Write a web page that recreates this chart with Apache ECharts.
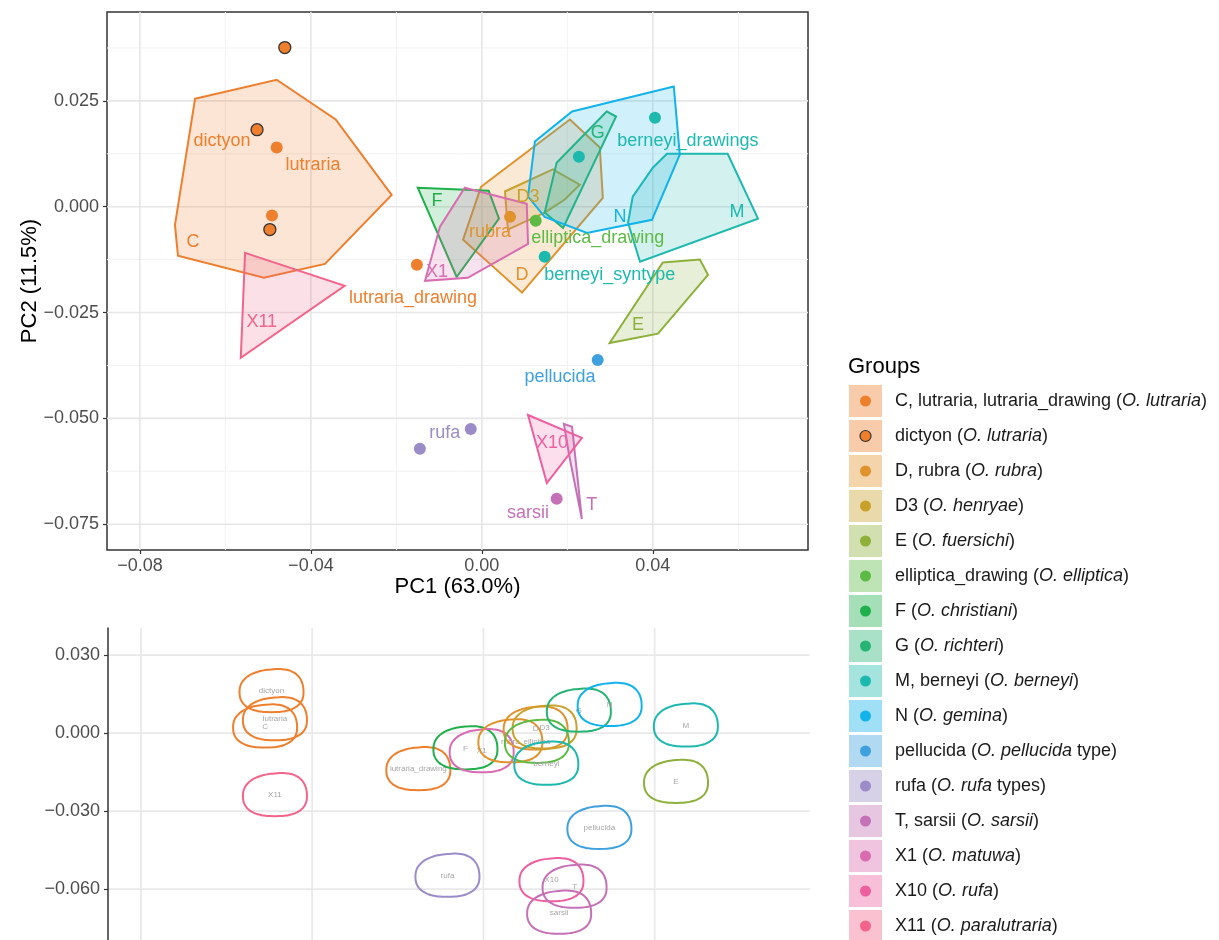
<!DOCTYPE html>
<html><head><meta charset="utf-8">
<script src="https://cdn.jsdelivr.net/npm/echarts@6/dist/echarts.min.js"></script>
<style>html,body{margin:0;padding:0;background:#fff}#c{width:1219px;height:940px}</style>
</head><body><div id="c"></div>
<script>
const FONT = '"Liberation Sans", Arial, Helvetica, sans-serif';

// ---- groups / legend ----
const groupNames = ['C, lutraria, lutraria_drawing','dictyon','D, rubra','D3','E','elliptica_drawing','F','G','M, berneyi','N','pellucida','rufa','T, sarsii','X1','X10','X11'];
const groupSpecies = ['O. lutraria','O. lutraria','O. rubra','O. henryae','O. fuersichi','O. elliptica','O. christiani','O. richteri','O. berneyi','O. gemina','O. pellucida','O. rufa','O. sarsii','O. matuwa','O. rufa','O. paralutraria'];
const groupSuffix = ['','','','','','','','','','',' type',' types','','','',''];
const groupColors = ['#EE7F2D','#EE7F2D','#E0932C','#C8A12C','#8DB03B','#5DBA45','#1FAF4B','#26B374','#1DB8AE','#12B2EA','#3FA0DE','#9B8BC6','#C471B6','#D96CB0','#EE5FA0','#F2648A'];

// ---- top panel: convex hulls (PC1, PC2) ----
const hullC   = [[-0.0671,0.0255],[-0.0480,0.0300],[-0.0342,0.0206],[-0.0211,0.0028],[-0.0367,-0.0135],[-0.0510,-0.0168],[-0.0711,-0.0116],[-0.0718,-0.0043]];
const hullD   = [[-0.0002,0.0047],[0.0206,0.0206],[0.0276,0.0140],[0.0283,0.0021],[0.0094,-0.0203],[-0.0044,-0.0078]];
const hullD3  = [[0.0054,0.0036],[0.0166,0.0088],[0.0229,0.0052],[0.0194,0.0017],[0.0147,-0.0014],[0.0061,-0.0054]];
const hullE   = [[0.0423,-0.0132],[0.0510,-0.0125],[0.0529,-0.0161],[0.0412,-0.0300],[0.0299,-0.0322]];
const hullF   = [[-0.0150,0.0045],[0.0016,0.0038],[0.0040,-0.0028],[-0.0059,-0.0166]];
const hullG   = [[0.0292,0.0225],[0.0314,0.0213],[0.0190,-0.0050],[0.0147,-0.0014],[0.0175,0.0104]];
const hullM   = [[0.0433,0.0125],[0.0575,0.0125],[0.0646,-0.0028],[0.0370,-0.0130],[0.0342,-0.0038],[0.0353,0.0024],[0.0400,0.0092]];
const hullN   = [[0.0211,0.0225],[0.0449,0.0284],[0.0463,0.0123],[0.0398,-0.0031],[0.0246,-0.0062],[0.0147,-0.0024],[0.0108,0.0024],[0.0124,0.0154]];
const hullT   = [[0.0192,-0.0513],[0.0211,-0.0520],[0.0234,-0.0738],[0.0204,-0.0586]];
const hullX1  = [[-0.0040,0.0045],[0.0105,0.0007],[0.0108,-0.0088],[-0.0033,-0.0168],[-0.0133,-0.0175],[-0.0098,-0.0047]];
const hullX10 = [[0.0108,-0.0492],[0.0234,-0.0546],[0.0152,-0.0653]];
const hullX11 = [[-0.0554,-0.0109],[-0.0321,-0.0187],[-0.0564,-0.0357]];
const hullList  = [hullC, hullD, hullD3, hullE, hullF, hullG, hullM, hullN, hullT, hullX1, hullX10, hullX11];
const hullGroup = [0, 2, 3, 4, 6, 7, 8, 9, 12, 13, 14, 15];

// ---- top panel: points ----
const ptX     = [-0.0480,-0.0491,-0.0152,-0.0461,-0.0526,-0.0496,0.0066,0.0126,0.0147,0.0405,0.0227,0.0271,-0.0026,-0.0145,0.0175];
const ptY     = [0.0140,-0.0021,-0.0137,0.0376,0.0182,-0.0054,-0.0024,-0.0033,-0.0118,0.0210,0.0118,-0.0362,-0.0525,-0.0572,-0.0690];
const ptGroup = [0,0,0,1,1,1,2,5,8,8,8,10,11,11,12];

// ---- top panel: text labels ----
const lblText  = ['dictyon','lutraria','C','lutraria_drawing','X11','F','X1','rubra','D3','D','elliptica_drawing','G','berneyi_drawings','N','M','berneyi_syntype','E','pellucida','rufa','X10','T','sarsii'];
const lblX     = [-0.0608,-0.0395,-0.0676,-0.0161,-0.0515,-0.0105,-0.0105,0.0019,0.0108,0.0094,0.0271,0.0271,0.0482,0.0323,0.0597,0.0299,0.0365,0.0183,-0.0087,0.0164,0.0257,0.0108];
const lblY     = [0.0154,0.0099,-0.0083,-0.0215,-0.0272,0.0014,-0.0154,-0.0059,0.0024,-0.0161,-0.0073,0.0173,0.0154,-0.0024,-0.0012,-0.0161,-0.0279,-0.0402,-0.0534,-0.0558,-0.0705,-0.0723];
const lblGroup = [1,0,0,0,15,6,13,2,3,2,5,7,8,9,8,8,4,10,11,14,12,12];

// ---- bottom panel: marked label outlines ----
const blobText  = ['dictyon','lutraria','C','X11','lutraria_drawing','F','X1','rubra','D','D3','elliptica','berneyi','G','N','M','E','pellucida','rufa','X10','T','sarsii'];
const blobX     = [-0.0495,-0.0487,-0.0510,-0.0487,-0.0152,-0.0042,-0.0004,0.0063,0.0122,0.0143,0.0125,0.0147,0.0223,0.0295,0.0473,0.0450,0.0271,-0.0084,0.0159,0.0213,0.0177];
const blobY     = [0.0161,0.0053,0.0025,-0.0239,-0.0139,-0.0059,-0.0070,-0.0032,0.0017,0.0021,-0.0034,-0.0118,0.0086,0.0108,0.0029,-0.0188,-0.0365,-0.0549,-0.0566,-0.0591,-0.0691];
const blobGroup = [1,0,0,15,0,6,13,2,2,3,5,8,7,9,8,4,10,11,14,12,12];

// ---- axes ticks / grid ----
const topXTicks = [-0.08,-0.04,0,0.04];
const topXMinor = [-0.06,-0.02,0.02,0.06];
const topYTicks = [-0.075,-0.05,-0.025,0,0.025];
const topYMinor = [-0.0625,-0.0375,-0.0125,0.0125,0.0375];
const botXGrid  = [-0.08,-0.04,0,0.04];
const botYTicks = [0.03,0,-0.03,-0.06];

function rgba(hex, a){
  const n = parseInt(hex.slice(1),16);
  return 'rgba('+((n>>16)&255)+','+((n>>8)&255)+','+(n&255)+','+a+')';
}
function fmt(d){ return v => (v < -1e-12 ? '\u2212' : '') + Math.abs(v).toFixed(d); }

function gridSeries(xi, vals, vertical, color, width){
  return {
    type:'custom', xAxisIndex:xi, yAxisIndex:xi, z:0, silent:true, clip:false,
    data: vals.map(v => vertical ? [v,0] : [0,v]),
    renderItem(params, api){
      const cs = params.coordSys;
      if (vertical){
        const x = api.coord([api.value(0),0])[0];
        return {type:'line', shape:{x1:x,y1:cs.y,x2:x,y2:cs.y+cs.height}, style:{stroke:color,lineWidth:width}};
      } else {
        const y = api.coord([0,api.value(1)])[1];
        return {type:'line', shape:{x1:cs.x,y1:y,x2:cs.x+cs.width,y2:y}, style:{stroke:color,lineWidth:width}};
      }
    }
  };
}

function blobShape(cx, cy){
  const a = 32, b = 20, pts = [];
  for (let k = 0; k < 72; k++){
    const t = k/72*2*Math.PI, ct = Math.cos(t), st = Math.sin(t);
    let x = a*Math.sign(ct)*Math.pow(Math.abs(ct),0.8);
    let y = b*Math.sign(st)*Math.pow(Math.abs(st),0.85);
    if (st < 0) y -= b*0.14*(x/a+1)*Math.abs(st);
    pts.push([cx+x, cy+y+1]);
  }
  return pts;
}

const chart = echarts.init(document.getElementById('c'), null, {renderer:'canvas'});

const legendGraphics = [{type:'text', left:848, top:356, style:{text:'Groups', font:'22px '+FONT, fill:'#000'}}];
groupNames.forEach((g,i) => {
  const cy = 401 + 35*i;
  legendGraphics.push({type:'rect', shape:{x:849,y:cy-16,width:33,height:32}, style:{fill:rgba(groupColors[i],0.4)}});
  legendGraphics.push({type:'circle', shape:{cx:865.5,cy:cy,r:5.5}, style:{fill:groupColors[i], stroke: i===1?'#333':null, lineWidth: i===1?1.2:0}});
  legendGraphics.push({type:'text', x:895, y:cy, style:{
    text: g + ' ({i|' + groupSpecies[i] + '}' + groupSuffix[i] + ')',
    font:'18px '+FONT, fill:'#1a1a1a', verticalAlign:'middle', align:'left',
    rich:{i:{fontStyle:'italic', fontSize:18, fontFamily:FONT, fill:'#1a1a1a'}}
  }});
});

const axisLabelStyle = {color:'#4d4d4d', fontSize:18, fontFamily:FONT};

const option = {
  backgroundColor:'#fff',
  animation:false,
  textStyle:{fontFamily:FONT},
  grid:[
    {left:107, top:12, width:701, height:538, show:true, borderColor:'#333', borderWidth:1.5, backgroundColor:'transparent', containLabel:false},
    {left:108, top:628, width:702, height:312, show:false, containLabel:false}
  ],
  xAxis:[
    {type:'value', gridIndex:0, min:-0.0877, max:0.0763,
     axisLine:{show:false, onZero:false}, splitLine:{show:false},
     axisTick:{show:true, length:4, lineStyle:{color:'#333', width:1.2}, customValues:topXTicks},
     axisLabel:{...axisLabelStyle, margin:7, customValues:topXTicks, formatter:fmt(2)},
     name:'PC1 (63.0%)', nameLocation:'middle', nameGap:26, nameMoveOverlap:false,
     nameTextStyle:{color:'#000', fontSize:22, fontFamily:FONT}},
    {type:'value', gridIndex:1, min:-0.0877, max:0.0763, show:false, axisLine:{show:false, onZero:false}, splitLine:{show:false}}
  ],
  yAxis:[
    {type:'value', gridIndex:0, min:-0.0811, max:0.0460,
     axisLine:{show:false, onZero:false}, splitLine:{show:false},
     axisTick:{show:true, length:4, lineStyle:{color:'#333', width:1.2}, customValues:topYTicks},
     axisLabel:{...axisLabelStyle, margin:8, customValues:topYTicks, formatter:fmt(3)},
     name:'PC2 (11.5%)', nameLocation:'middle', nameGap:66, nameRotate:90, nameMoveOverlap:false,
     nameTextStyle:{color:'#000', fontSize:22, fontFamily:FONT}},
    {type:'value', gridIndex:1, min:-0.0796, max:0.0404,
     axisLine:{show:true, onZero:false, lineStyle:{color:'#333', width:1.5}}, splitLine:{show:false},
     axisTick:{show:true, length:4, lineStyle:{color:'#333', width:1.2}, customValues:botYTicks},
     axisLabel:{...axisLabelStyle, margin:8, customValues:botYTicks, formatter:fmt(3)}}
  ],
  graphic: legendGraphics,
  series:[
    gridSeries(0, topXMinor, true, '#f2f2f2', 1),
    gridSeries(0, topYMinor, false, '#f2f2f2', 1),
    gridSeries(0, topXTicks, true, '#e6e6e6', 1.6),
    gridSeries(0, topYTicks, false, '#e6e6e6', 1.6),
    gridSeries(1, botXGrid, true, '#e9e9e9', 1.8),
    gridSeries(1, botYTicks, false, '#e9e9e9', 1.8),
    {
      type:'custom', xAxisIndex:0, yAxisIndex:0, z:2, silent:true, clip:false,
      data: hullList.map(h => h[0]),
      renderItem(params, api){
        const i = params.dataIndex;
        const col = groupColors[hullGroup[i]];
        const pts = hullList[i].map(p => api.coord(p));
        return {type:'polygon', shape:{points:pts}, style:{fill:rgba(col,0.2), stroke:col, lineWidth:2, lineJoin:'miter'}};
      }
    },
    {
      type:'scatter', xAxisIndex:0, yAxisIndex:0, z:3, silent:true, symbolSize:12,
      data: ptX.map((x,i) => ({value:[x, ptY[i]], itemStyle:{color:groupColors[ptGroup[i]], borderColor: ptGroup[i]===1?'#333':'rgba(0,0,0,0)', borderWidth: ptGroup[i]===1?1.3:0, opacity:1}}))
    },
    {
      type:'custom', xAxisIndex:0, yAxisIndex:0, z:4, silent:true, clip:false,
      data: lblX.map((x,i) => [x, lblY[i]]),
      renderItem(params, api){
        const i = params.dataIndex;
        const c = api.coord([api.value(0), api.value(1)]);
        return {type:'text', x:c[0], y:c[1], style:{text:lblText[i], fill:groupColors[lblGroup[i]], font:'18px '+FONT, align:'center', verticalAlign:'middle'}};
      }
    },
    {
      type:'custom', xAxisIndex:1, yAxisIndex:1, z:3, silent:true, clip:false,
      data: blobX.map((x,i) => [x, blobY[i]]),
      renderItem(params, api){
        const i = params.dataIndex;
        const c = api.coord([api.value(0), api.value(1)]);
        return {type:'group', children:[
          {type:'polygon', shape:{points:blobShape(c[0], c[1]), smooth:0.3}, style:{fill:'none', stroke:groupColors[blobGroup[i]], lineWidth:2}},
          {type:'text', x:c[0], y:c[1], style:{text:blobText[i], fill:'#a6a6a6', font:'8px '+FONT, align:'center', verticalAlign:'middle'}}
        ]};
      }
    }
  ]
};
chart.setOption(option);
</script></body></html>
